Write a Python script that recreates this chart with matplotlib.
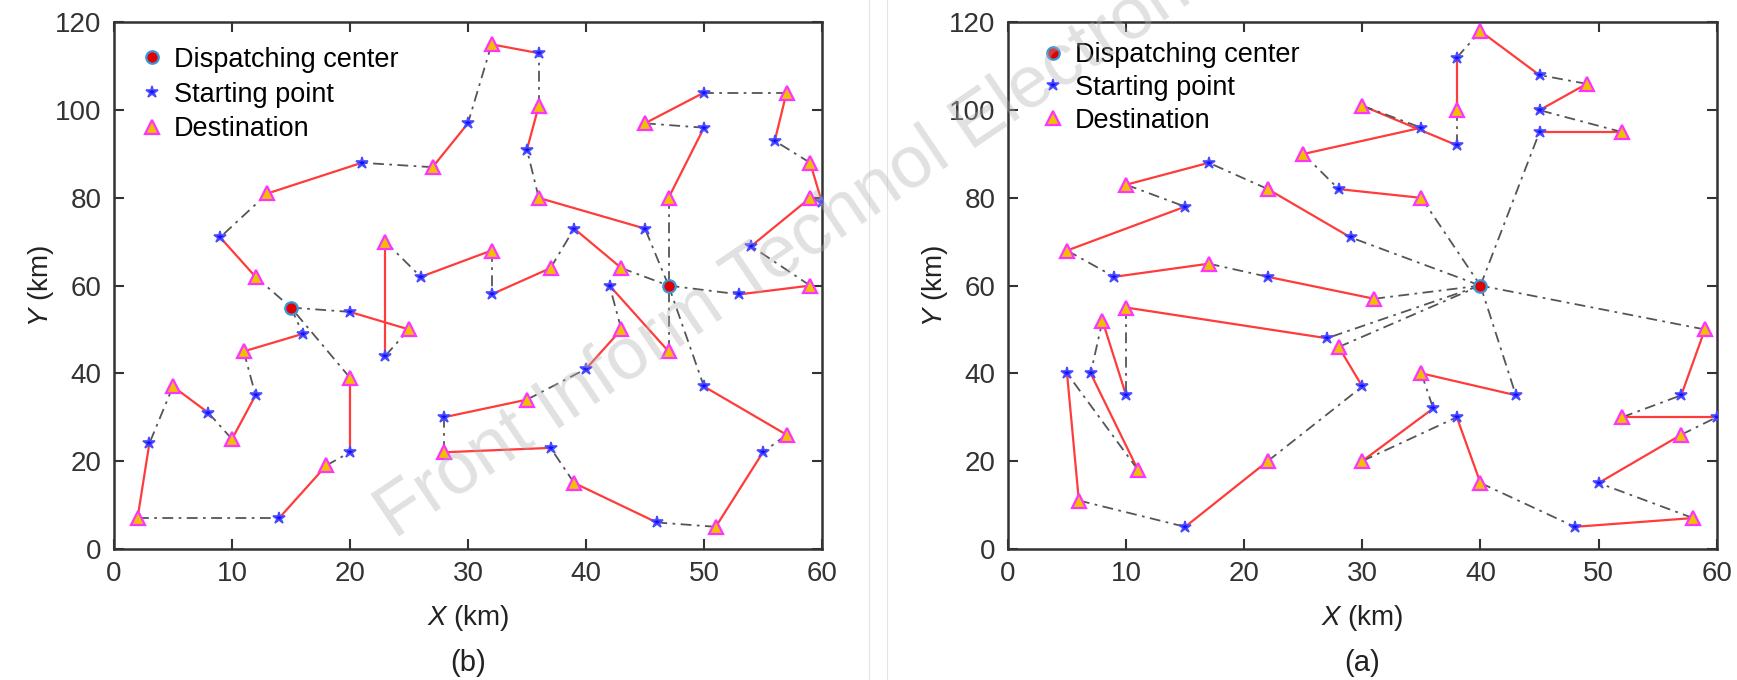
import matplotlib
matplotlib.use("Agg")
import matplotlib.pyplot as plt
from matplotlib.lines import Line2D

plt.rcParams['font.family'] = ['Liberation Sans', 'DejaVu Sans']
plt.rcParams['mathtext.fontset'] = 'custom'
plt.rcParams['mathtext.rm'] = 'Liberation Sans'
plt.rcParams['mathtext.it'] = 'Liberation Sans:italic'

# Each route starts and ends at a dispatching center.
# Points alternate: center, start, destination, start, destination, ..., center
# Segments alternate: empty trip (dash-dot), loaded trip (red), ...

# Panel (b): two dispatching centers
b_route1 = [(47, 60), (53, 58), (59, 60), (54, 69), (59, 80), (60, 79), (59, 88),
            (56, 93), (57, 104), (50, 104), (45, 97), (50, 96), (47, 80), (47, 60)]
b_route2 = [(47, 60), (45, 73), (36, 80), (35, 91), (36, 101), (36, 113), (32, 115),
            (30, 97), (27, 87), (21, 88), (13, 81), (9, 71), (12, 62), (15, 55)]
b_route3 = [(15, 55), (20, 54), (25, 50), (23, 44), (23, 70), (26, 62), (32, 68),
            (32, 58), (37, 64), (39, 73), (43, 64), (47, 60)]
b_route4 = [(47, 60), (50, 37), (57, 26), (55, 22), (51, 5), (46, 6), (39, 15),
            (37, 23), (28, 22), (28, 30), (35, 34), (40, 41), (43, 50), (42, 60),
            (47, 45), (47, 60)]
b_route5 = [(15, 55), (16, 49), (11, 45), (12, 35), (10, 25), (8, 31), (5, 37),
            (3, 24), (2, 7), (14, 7), (18, 19), (20, 22), (20, 39), (15, 55)]

# Panel (a): one dispatching center
a_route1 = [(40, 60), (45, 95), (52, 95), (45, 100), (49, 106), (45, 108), (40, 118),
            (38, 112), (38, 100), (38, 92), (30, 101), (35, 96), (25, 90), (28, 82),
            (35, 80), (40, 60)]
a_route2 = [(40, 60), (29, 71), (22, 82), (17, 88), (10, 83), (15, 78), (5, 68),
            (9, 62), (17, 65), (22, 62), (31, 57), (40, 60)]
a_route3 = [(40, 60), (27, 48), (10, 55), (10, 35), (8, 52), (7, 40), (11, 18),
            (5, 40), (6, 11), (15, 5), (22, 20), (30, 37), (28, 46), (40, 60)]
a_route4 = [(40, 60), (43, 35), (35, 40), (36, 32), (30, 20), (38, 30), (40, 15),
            (48, 5), (58, 7), (50, 15), (57, 26), (60, 30), (52, 30), (57, 35),
            (59, 50), (40, 60)]

b_routes = [b_route1, b_route2, b_route3, b_route4, b_route5]
a_routes = [a_route1, a_route2, a_route3, a_route4]

x_ticks = [0, 10, 20, 30, 40, 50, 60]
y_ticks = [0, 20, 40, 60, 80, 100, 120]
legend_labels = ['Dispatching center', 'Starting point', 'Destination']

RED = '#ff3b3b'
GREY = '#555555'
center_style = dict(marker='o', ms=9, mfc='#e00000', mec='#3a9ad9', mew=1.6, ls='none')
start_style = dict(marker='*', ms=9, mfc='#1010ff', mec='#4a4aff', mew=1.2, ls='none')
dest_style = dict(marker='^', ms=10, mfc='#f0c000', mec='#ff33ff', mew=1.6, ls='none')


def draw_routes(ax, routes):
    for route in routes:
        for i in range(len(route) - 1):
            (x0, y0), (x1, y1) = route[i], route[i + 1]
            if i % 2 == 0:
                ax.plot([x0, x1], [y0, y1], color=GREY, lw=1.3,
                        ls=(0, (6, 3, 1.5, 3)), zorder=2)
            else:
                ax.plot([x0, x1], [y0, y1], color=RED, lw=1.6, zorder=2)
    for route in routes:
        starts = route[1:-1:2]
        dests = route[2:-1:2]
        ax.plot([p[0] for p in starts], [p[1] for p in starts], zorder=4, **start_style)
        ax.plot([p[0] for p in dests], [p[1] for p in dests], zorder=4, **dest_style)
    centers = set([r[0] for r in routes] + [r[-1] for r in routes])
    ax.plot([c[0] for c in centers], [c[1] for c in centers], zorder=5, **center_style)


def style_axes(ax, legend_x, legend_y, spacing):
    ax.set_xlim(0, 60)
    ax.set_ylim(0, 120)
    ax.set_xticks(x_ticks)
    ax.set_yticks(y_ticks)
    ax.tick_params(direction='in', length=7, width=1.5, labelsize=20,
                   top=True, right=True, pad=9, colors='#333333')
    for s in ax.spines.values():
        s.set_linewidth(1.8)
        s.set_color('#333333')
    ax.set_xlabel(r'$\mathit{X}$ (km)', fontsize=20, labelpad=11, color='#222222')
    ax.set_ylabel(r'$\mathit{Y}$ (km)', fontsize=20, labelpad=-1, color='#222222')
    handles = [Line2D([], [], **center_style),
               Line2D([], [], **start_style),
               Line2D([], [], **dest_style)]
    ax.legend(handles, legend_labels, loc='upper left',
              bbox_to_anchor=(legend_x, legend_y),
              frameon=False, fontsize=19.5, handlelength=0.8,
              handletextpad=0.4, labelspacing=spacing, borderaxespad=0.6)


fig = plt.figure(figsize=(17.37, 6.8), dpi=100)
ax_b = fig.add_axes([0.0656, 0.193, 0.4076, 0.774])
ax_a = fig.add_axes([0.5803, 0.193, 0.408, 0.774])

draw_routes(ax_b, b_routes)
draw_routes(ax_a, a_routes)
style_axes(ax_b, 0.0, 1.005, 0.32)
style_axes(ax_a, 0.01, 1.014, 0.25)

fig.text(468 / 1737, 1 - 663 / 680, '(b)', ha='center', va='center',
         fontsize=21, color='#222222')
fig.text(1362 / 1737, 1 - 663 / 680, '(a)', ha='center', va='center',
         fontsize=21, color='#222222')

# faint panel separators
for xs in (869 / 1737, 887 / 1737):
    fig.add_artist(Line2D([xs, xs], [0, 1], color='#e4e4e4', lw=0.8))

# watermark
fig.text(395 / 1737, 1 - 540 / 680, 'Front Inform Technol Electron Eng',
         rotation=34, rotation_mode='anchor', ha='left', va='baseline',
         fontsize=53, color='#b0b0b0', alpha=0.38, zorder=10)

fig.savefig('out.png', dpi=100)
